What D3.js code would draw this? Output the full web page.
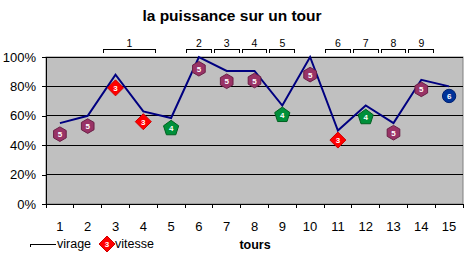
<!DOCTYPE html>
<html>
  <head>
    <meta http-equiv="Content-Type" content="text/html;charset=utf-8"/>
    <title>la puissance sur un tour</title>
    <script src="https://d3js.org/d3.v7.min.js"></script>
    <style>
      body { margin: 0; background: #fff; }
      text { font-family: "Liberation Sans", Arial, sans-serif; fill: #000; }
    </style>
  </head>
  <body>
    <script type="text/javascript">
        // data
        const tours = [1, 2, 3, 4, 5, 6, 7, 8, 9, 10, 11, 12, 13, 14, 15]
        const virage = [0.55, 0.60, 0.88, 0.63, 0.585, 1.00, 0.905, 0.905, 0.67, 1.00, 0.50, 0.67, 0.55, 0.845, 0.80]
        const vitesse = [0.475, 0.53, 0.79, 0.56, 0.515, 0.92, 0.835, 0.84, 0.605, 0.88, 0.435, 0.59, 0.485, 0.78, 0.735]
        const rapport = [5, 5, 3, 3, 4, 5, 5, 5, 4, 5, 3, 4, 5, 5, 6]
        const yTicks = [0, 0.2, 0.4, 0.6, 0.8, 1]
        const bracketStart = [3, 6, 7, 8, 9, 11, 12, 13, 14]
        const bracketEnd = [4, 6, 7, 8, 9, 11, 12, 13, 14]
        const bracketLabels = ['1', '2', '3', '4', '5', '6', '7', '8', '9']

        const width = 467,
              height = 256
        const plotLeft = 46, plotRight = 463, plotTop = 57, plotBottom = 204

        const svg = d3.select("body").append("svg")
            .attr("width", width)
            .attr("height", height)

        const x = d3.scaleBand().domain(tours).range([plotLeft, plotRight])
        const cx = d => x(d) + x.bandwidth() / 2
        const y = d3.scaleLinear().domain([0, 1]).range([plotBottom, plotTop])

        // title
        svg.append('text')
            .attr('x', 232).attr('y', 21)
            .attr('text-anchor', 'middle')
            .style('font-size', '15.5px').style('font-weight', 'bold')
            .text('la puissance sur un tour')

        // plot area
        svg.append('rect')
            .attr('x', plotLeft).attr('y', plotTop)
            .attr('width', plotRight - plotLeft).attr('height', plotBottom - plotTop)
            .attr('fill', '#c0c0c0')
            .attr('stroke', '#808080')

        svg.append('g').selectAll('line')
            .data(yTicks.filter(d => d > 0))
            .enter().append('line')
            .attr('x1', plotLeft).attr('x2', plotRight)
            .attr('y1', d => y(d)).attr('y2', d => y(d))
            .attr('stroke', '#000').attr('stroke-width', 1)
            .attr('shape-rendering', 'crispEdges')

        // y axis
        const yAxis = svg.append('g')
            .attr('transform', 'translate(' + plotLeft + ',0)')
            .call(d3.axisLeft(y).tickValues(yTicks).tickFormat(d3.format('.0%')).tickSize(4).tickPadding(6))
        yAxis.selectAll('text').style('font-size', '13px').attr('font-family', null)
        yAxis.selectAll('line, path').attr('stroke', '#000').attr('shape-rendering', 'crispEdges')

        // x axis: ticks at category edges, labels at centres
        const xAxis = svg.append('g')
            .attr('transform', 'translate(0,' + plotBottom + ')')
            .call(d3.axisBottom(x).tickSize(0).tickPadding(18))
        xAxis.select('.domain').attr('stroke', '#000').attr('shape-rendering', 'crispEdges')
        xAxis.selectAll('text').style('font-size', '13px').attr('font-family', null)
        svg.append('g').selectAll('line')
            .data(tours.concat([16]))
            .enter().append('line')
            .attr('x1', d => d <= 15 ? x(d) : plotRight).attr('x2', d => d <= 15 ? x(d) : plotRight)
            .attr('y1', plotBottom).attr('y2', plotBottom + 4)
            .attr('stroke', '#000')
            .attr('shape-rendering', 'crispEdges')

        svg.append('text')
            .attr('x', 255).attr('y', 249)
            .attr('text-anchor', 'middle')
            .style('font-size', '12.5px').style('font-weight', 'bold')
            .text('tours')

        // brackets above the plot
        const br = svg.append('g').selectAll('g')
            .data(bracketLabels)
            .enter().append('g')
        br.append('path')
            .attr('d', (d, i) => {
                const x0 = x(bracketStart[i]) + 1.5, x1 = x(bracketEnd[i]) + x.bandwidth() - 1.5
                return 'M' + x0 + ',53V49.5H' + x1 + 'V53'
            })
            .attr('fill', 'none').attr('stroke', '#000')
            .attr('shape-rendering', 'crispEdges')
        br.append('text')
            .attr('x', (d, i) => (x(bracketStart[i]) + x(bracketEnd[i]) + x.bandwidth()) / 2)
            .attr('y', 47)
            .attr('text-anchor', 'middle')
            .style('font-size', '10.5px')
            .text(d => d)

        // virage line
        svg.append('path')
            .datum(tours)
            .attr('d', d3.line().x(d => cx(d)).y((d, i) => y(virage[i])))
            .attr('fill', 'none')
            .attr('stroke', '#000080')
            .attr('stroke-width', 2)

        // marker look by gear
        function polygon(n, r, rot) {
            const pts = d3.range(n).map(k => {
                const a = rot + k * 2 * Math.PI / n
                return [r * Math.sin(a), -r * Math.cos(a)]
            })
            return 'M' + pts.join('L') + 'Z'
        }
        const markerStyle = {
            3: { path: polygon(4, 8, 0), fill: '#ff0000', stroke: '#cc0000' },
            4: { path: polygon(5, 8, 0), fill: '#00903a', stroke: '#006020' },
            5: { path: polygon(6, 7.3, 0), fill: '#993366', stroke: '#6a2046' },
            6: { path: d3.symbol(d3.symbolCircle, 140)(), fill: '#003399', stroke: '#002070' }
        }

        function marker(g, gear) {
            const s = markerStyle[gear]
            g.append('path')
                .attr('d', s.path)
                .attr('fill', s.fill)
                .attr('stroke', s.stroke)
                .attr('stroke-width', 1)
            g.append('text')
                .attr('y', 3)
                .attr('text-anchor', 'middle')
                .style('font-size', '8px').style('font-weight', 'bold')
                .style('fill', '#fff')
                .text(gear)
        }

        svg.append('g').selectAll('g')
            .data(tours)
            .enter().append('g')
            .attr('transform', (d, i) => 'translate(' + cx(d) + ',' + y(vitesse[i]) + ')')
            .each(function(d, i) { marker(d3.select(this), rapport[i]) })

        // legend
        const lg = svg.append('g')
        lg.append('path')
            .attr('d', 'M30.5,247V244.5H56')
            .attr('fill', 'none').attr('stroke', '#000')
            .attr('shape-rendering', 'crispEdges')
        lg.append('text').attr('x', 57).attr('y', 248).style('font-size', '12.5px').text('virage')
        marker(lg.append('g').attr('transform', 'translate(107,244)'), 3)
        lg.append('text').attr('x', 115).attr('y', 248).style('font-size', '12.5px').text('vitesse')
    </script>
  </body>
</html>
